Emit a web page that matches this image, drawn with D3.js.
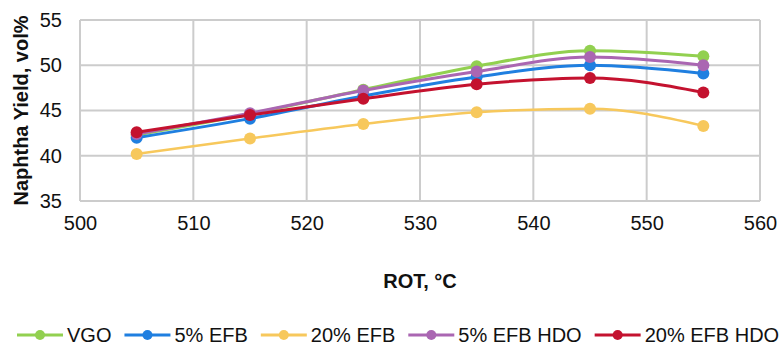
<!DOCTYPE html>
<meta charset="utf-8">
<style>
body { margin: 0; background: #fff; }
text { font-family: "Liberation Sans", Arial, sans-serif; fill: #111; }
</style>
<body>
<script src="https://cdn.jsdelivr.net/npm/d3@7"></script>
<script>

var width = 781, height = 350;

// data
var rot = [505, 515, 525, 535, 545, 555];
var seriesNames = ["VGO", "5% EFB", "20% EFB", "5% EFB HDO", "20% EFB HDO"];
var seriesColors = ["#92d050", "#1f7fe0", "#f7c85c", "#aa66b2", "#c4122f"];
var vgo      = [42.3, 44.6, 47.3, 49.9, 51.6, 51.0];
var efb5     = [42.0, 44.1, 46.6, 48.7, 50.0, 49.1];
var efb20    = [40.2, 41.9, 43.5, 44.8, 45.2, 43.3];
var efb5hdo  = [42.4, 44.7, 47.2, 49.3, 50.9, 50.0];
var efb20hdo = [42.6, 44.5, 46.3, 47.9, 48.6, 47.0];
var xTicks = [500, 510, 520, 530, 540, 550, 560];
var yTicks = [35, 40, 45, 50, 55];

var allSeries = [vgo, efb5, efb20, efb5hdo, efb20hdo];

var fs = 20;
var margin = {left: 80, right: 21, top: 20, bottom: 149};

var x = d3.scaleLinear().domain([500, 560]).range([margin.left, width - margin.right]);
var y = d3.scaleLinear().domain([35, 55]).range([height - margin.bottom, margin.top]);

var svg = d3.select("body").append("svg")
    .attr("width", width)
    .attr("height", height);

// grid
var grid = svg.append("g");
grid.selectAll("line.v").data(xTicks).enter().append("line")
    .attr("x1", function(d) { return x(d); }).attr("x2", function(d) { return x(d); })
    .attr("y1", y(55)).attr("y2", y(35))
    .attr("stroke", "#cccccc").attr("stroke-width", 2);
grid.selectAll("line.h").data(yTicks).enter().append("line")
    .attr("y1", function(d) { return y(d); }).attr("y2", function(d) { return y(d); })
    .attr("x1", x(500)).attr("x2", x(560))
    .attr("stroke", "#cccccc").attr("stroke-width", 2);

// axes (labels only, Excel style)
svg.append("g")
    .attr("transform", "translate(0," + y(35) + ")")
    .call(d3.axisBottom(x).tickValues(xTicks).tickSize(0).tickPadding(15).tickFormat(d3.format("d")));
svg.append("g")
    .attr("transform", "translate(" + x(500) + ",0)")
    .call(d3.axisLeft(y).tickValues(yTicks).tickSize(0).tickPadding(18).tickFormat(d3.format("d")));
svg.selectAll(".domain").remove();
svg.selectAll(".tick text").attr("font-size", fs).attr("font-family", "Liberation Sans, Arial, sans-serif").attr("fill", "#111");

// titles
svg.append("text")
    .attr("x", (x(500) + x(560)) / 2).attr("y", 288)
    .attr("text-anchor", "middle").attr("font-size", fs).attr("font-weight", "bold")
    .text("ROT, °C");
svg.append("text")
    .attr("transform", "translate(28," + (y(35) + y(55)) / 2 + ") rotate(-90)")
    .attr("text-anchor", "middle").attr("font-size", fs).attr("font-weight", "bold")
    .text("Naphtha Yield, vol%");

// lines
var line = d3.line()
    .x(function(d, i) { return x(rot[i]); })
    .y(function(d) { return y(d); })
    .curve(d3.curveMonotoneX);

allSeries.forEach(function(s, k) {
  var g = svg.append("g");
  g.append("path").datum(s)
      .attr("d", line)
      .attr("fill", "none")
      .attr("stroke", seriesColors[k])
      .attr("stroke-width", k == 2 ? 2.5 : 3);
  g.selectAll("circle").data(s).enter().append("circle")
      .attr("cx", function(d, i) { return x(rot[i]); })
      .attr("cy", function(d) { return y(d); })
      .attr("r", 6)
      .attr("fill", seriesColors[k]);
});

// legend
var legend = svg.append("g");
var lx = 17, ly = 335;
seriesNames.forEach(function(name, k) {
  var item = legend.append("g").attr("transform", "translate(" + lx + "," + ly + ")");
  item.append("line").attr("x1", 0).attr("x2", 46).attr("y1", 0).attr("y2", 0)
      .attr("stroke", seriesColors[k]).attr("stroke-width", 3);
  item.append("circle").attr("cx", 23).attr("cy", 0).attr("r", 5).attr("fill", seriesColors[k]);
  var t = item.append("text").attr("x", 50).attr("y", 7).attr("font-size", fs).text(name);
  lx += 50 + t.node().getComputedTextLength() + 13;
});

</script>
</body>
